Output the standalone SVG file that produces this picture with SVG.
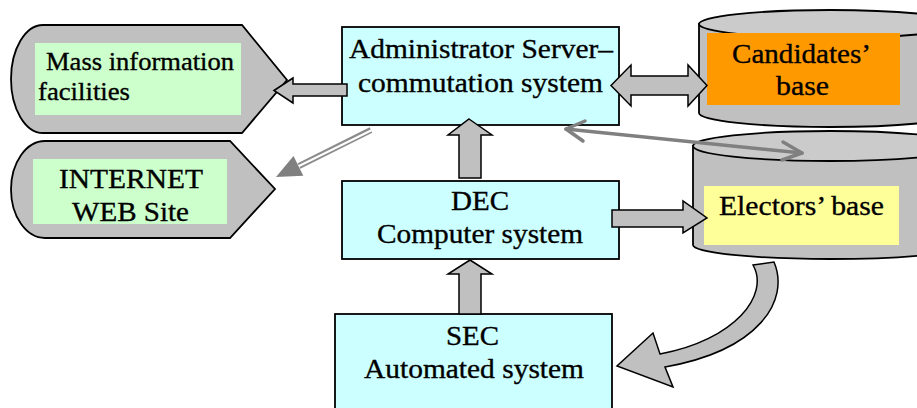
<svg xmlns="http://www.w3.org/2000/svg" width="917" height="408" viewBox="0 0 917 408">
<style>
.t{font-family:"Liberation Serif","Times New Roman",serif;font-size:28px;fill:#000;stroke:#000;stroke-width:0.35}
.s{font-size:25.5px}
.box{fill:#ccffff;stroke:#000;stroke-width:1.8}
.disp{fill:#c0c0c0;stroke:#000;stroke-width:1.8}
.blk{fill:#c0c0c0;stroke:#000;stroke-width:1.5;stroke-linejoin:miter}
.cyl{fill:#c0c0c0;stroke:#000;stroke-width:1.8}
.cyltop{fill:#cbcbcb;stroke:#000;stroke-width:1.8}
</style>
<rect width="917" height="408" fill="#fff"/>

<g id="mass-info">
<path class="disp" d="M43,25 L242,25 L287,80 L242,133 L43,133 A32 54 0 0 1 43,25 Z"/>
<rect x="35" y="43" width="206" height="72" fill="#ccffcc"/>
<text class="t s" x="46" y="70" textLength="188" lengthAdjust="spacingAndGlyphs">Mass information</text>
<text class="t s" x="38" y="100" textLength="92" lengthAdjust="spacingAndGlyphs">facilities</text>
</g>

<g id="internet">
<path class="disp" d="M45,141 L230,141 L275,189 L230,238 L45,238 A34 48.5 0 0 1 45,141 Z"/>
<rect x="33" y="159" width="194" height="65" fill="#ccffcc"/>
<text class="t" x="59" y="188" textLength="144" lengthAdjust="spacingAndGlyphs">INTERNET</text>
<text class="t" x="72" y="221" textLength="117" lengthAdjust="spacingAndGlyphs">WEB Site</text>
</g>

<g id="admin-server">
<rect class="box" x="342" y="27" width="277" height="98"/>
<text class="t" x="349" y="58" textLength="264" lengthAdjust="spacingAndGlyphs">Administrator Server–</text>
<text class="t" x="358" y="92" textLength="245" lengthAdjust="spacingAndGlyphs">commutation system</text>
</g>

<g id="dec">
<rect class="box" x="342" y="181" width="277" height="78"/>
<text class="t" x="451" y="210" textLength="58" lengthAdjust="spacingAndGlyphs">DEC</text>
<text class="t" x="377" y="243" textLength="206" lengthAdjust="spacingAndGlyphs">Computer system</text>
</g>

<g id="sec">
<rect class="box" x="335" y="314" width="277" height="110"/>
<text class="t" x="446" y="345" textLength="53" lengthAdjust="spacingAndGlyphs">SEC</text>
<text class="t" x="364" y="378" textLength="220" lengthAdjust="spacingAndGlyphs">Automated system</text>
</g>

<g id="candidates-base">
<path class="cyl" d="M699,24 L699,113 A131 14 0 0 0 961,113 L961,24 Z"/>
<ellipse class="cyltop" cx="830" cy="24" rx="131" ry="14"/>
<rect x="707" y="33" width="193" height="72" fill="#ff9900"/>
<text class="t" x="732" y="63" textLength="139" lengthAdjust="spacingAndGlyphs">Candidates’</text>
<text class="t" x="776" y="95" textLength="53" lengthAdjust="spacingAndGlyphs">base</text>
</g>

<g id="electors-base">
<path class="cyl" d="M693,146 L693,245 A137 14 0 0 0 967,245 L967,146 Z"/>
<ellipse class="cyltop" cx="830" cy="146" rx="137" ry="15"/>
<rect x="704" y="186" width="195" height="59" fill="#ffff99"/>
<text class="t" x="719" y="215" textLength="165" lengthAdjust="spacingAndGlyphs">Electors’ base</text>
</g>

<g id="connectors">
<path class="blk" d="M274,90.5 L293,78 L293,84 L347,84 L347,96 L293,96 L293,103 Z"/>
<path class="blk" d="M469,119 L492,135 L481,135 L481,178 L459,178 L459,135 L448,135 Z"/>
<path class="blk" d="M470,260 L492,274 L481,274 L481,314 L459,314 L459,274 L448,274 Z"/>
<path class="blk" d="M611,85.5 L631,65 L631,76 L688,76 L688,65 L707,85.5 L688,106 L688,95 L631,95 L631,106 Z"/>
<path class="blk" d="M612,210 L683,210 L683,201 L707,218 L683,233 L683,227 L612,227 Z"/>
<path class="blk" d="M753,265 L774,262 C790,300 760,350 665,367 L673,387 L617,366 L653,333 L660,354 C735,340 770,295 753,265 Z"/>
<g fill="none" stroke="#808080" stroke-width="3.5" stroke-linecap="round" stroke-linejoin="round">
<path d="M566,129 L802,153"/>
<path d="M585,121 L566,129 L583,141"/>
<path d="M783,142 L802,153 L782,160"/>
</g>
<path d="M371,130 L299,166" stroke="#8c8c8c" stroke-width="6" fill="none"/>
<path d="M372,130 L297,167" stroke="#fff" stroke-width="2" fill="none"/>
<path d="M276,177 L293.5,156 L303.3,175.8 Z" fill="#808080"/>
</g>
</svg>
